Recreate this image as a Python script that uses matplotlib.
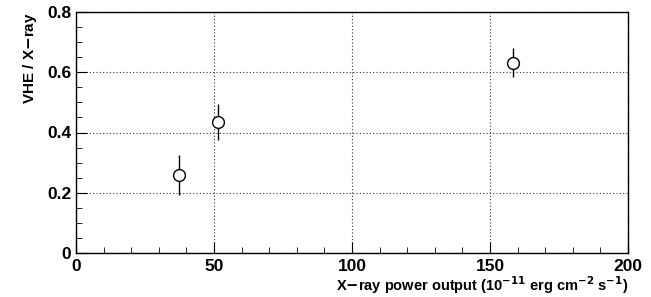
import matplotlib
matplotlib.use("Agg")
import matplotlib.pyplot as plt
from matplotlib.ticker import MultipleLocator

x_vals = [37.3, 51.4, 158.2]
y_vals = [0.259, 0.435, 0.632]
y_err = [0.066, 0.061, 0.047]

plt.rcParams['font.family'] = ['Liberation Sans', 'DejaVu Sans']
plt.rcParams['font.weight'] = 'bold'
plt.rcParams['mathtext.default'] = 'bf'

fig = plt.figure(figsize=(6.51, 2.97), dpi=100)
ax = fig.add_axes([76/651, 44/297, 552/651, 241/297])
ax.set_xlim(0, 200)
ax.set_ylim(0, 0.8)
ax.grid(True, which='major', linestyle=(0, (1, 2)), color='#333333', linewidth=0.8)
ax.errorbar(x_vals, y_vals, yerr=y_err, fmt='o', mfc='white', mec='black',
            ecolor='black', ms=8.5, mew=1.0, elinewidth=1.0, capsize=0, zorder=3)
ax.xaxis.set_major_locator(MultipleLocator(50))
ax.xaxis.set_minor_locator(MultipleLocator(10))
ax.yaxis.set_major_locator(MultipleLocator(0.2))
ax.yaxis.set_minor_locator(MultipleLocator(0.05))
ax.tick_params(which='both', direction='in', labelsize=12.5)
ax.tick_params(which='major', length=8)
ax.tick_params(which='minor', length=4)
ax.tick_params(axis='x', pad=4)
ax.set_xticks([0, 50, 100, 150, 200])
ax.set_xticklabels(['0', '50', '100', '150', '200'], fontweight='bold')
ax.set_yticks([0, 0.2, 0.4, 0.6, 0.8])
ax.set_yticklabels(['0', '0.2', '0.4', '0.6', '0.8'], fontweight='bold')
for s in ax.spines.values():
    s.set_linewidth(1.0)
fig.text(628/651, 1/297, r'X$-$ray power output (10$^{-11}$ erg cm$^{-2}$ s$^{-1}$)',
         fontsize=10.5, fontweight='bold', ha='right', va='bottom')
ax.set_ylabel('VHE / X$-$ray', fontsize=11, fontweight='bold', loc='top', labelpad=6)
fig.savefig('out.png', dpi=100)
